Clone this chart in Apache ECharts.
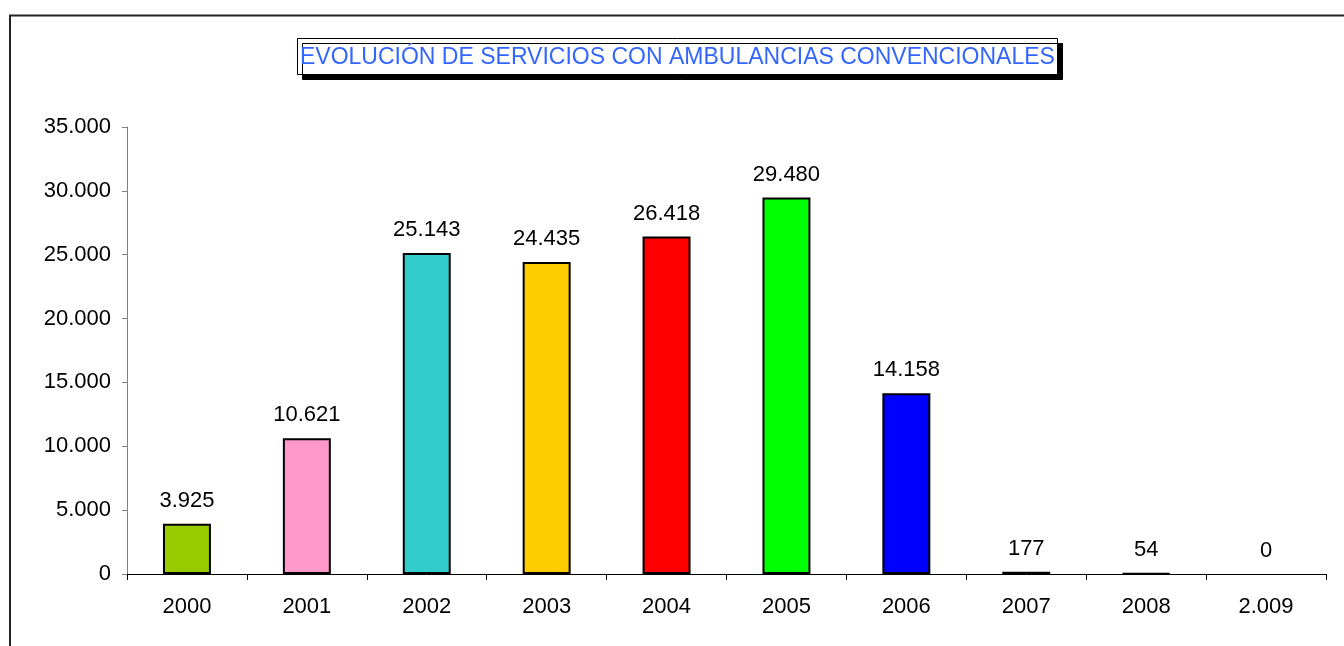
<!DOCTYPE html>
<html><head><meta charset="utf-8">
<script src="https://cdn.jsdelivr.net/npm/echarts@6/dist/echarts.min.js"></script>
<style>html,body{margin:0;padding:0;background:#fff}#c{width:1344px;height:646px}</style>
</head><body><div id="c"></div>
<script>
const categories = ['2000','2001','2002','2003','2004','2005','2006','2007','2008','2.009'];
const values = [3925, 10621, 25143, 24435, 26418, 29480, 14158, 177, 54, 0];
const barColors = ['#99CC00','#FF99CC','#33CCCC','#FFCC00','#FF0000','#00FF00','#0000FF','#000000','#000000','#000000'];
const yTicks = ['0','5.000','10.000','15.000','20.000','25.000','30.000','35.000'];
const titleText = 'EVOLUCIÓN DE SERVICIOS CON AMBULANCIAS CONVENCIONALES';

function fmt(v){ return String(v).replace(/\B(?=(\d{3})+(?!\d))/g,'.'); }
const chart = echarts.init(document.getElementById('c'));
chart.setOption({
  animation:false,
  textStyle:{fontFamily:'Liberation Sans, Arial, sans-serif'},
  graphic:[
    {type:'rect', shape:{x:10,y:15.5,width:1400,height:700}, style:{fill:'none',stroke:'#222',lineWidth:2}, z:-1}
  ],
  title:{
    text:titleText, left:297, top:38,
    padding:[8,3,6,3],
    backgroundColor:'#fff', borderColor:'#000', borderWidth:1,
    shadowColor:'#000', shadowOffsetX:5, shadowOffsetY:5, shadowBlur:0,
    textStyle:{color:'#3366FF', fontSize:23, fontWeight:'normal', fontFamily:'Liberation Sans, Arial, sans-serif'}
  },
  grid:{left:127, top:127, right:18, bottom:72},
  xAxis:{
    type:'category', data:categories,
    axisLine:{lineStyle:{color:'#000',width:1}},
    axisTick:{show:true, length:6, alignWithLabel:false, lineStyle:{color:'#000'}},
    axisLabel:{color:'#000', fontSize:22, margin:22}
  },
  yAxis:{
    type:'value', min:0, max:35000, interval:5000,
    axisLine:{show:true, lineStyle:{color:'#808080',width:1}},
    axisTick:{show:true, length:5, lineStyle:{color:'#808080'}},
    splitLine:{show:false},
    axisLabel:{color:'#000', fontSize:22, margin:16, formatter:v=>yTicks[v/5000]}
  },
  series:[{
    type:'bar', barWidth:'40%',
    data:values.map((v,i)=>({value:v, itemStyle:{color:barColors[i], borderWidth: v===0?0:2}})),
    itemStyle:{borderColor:'#000', borderWidth:2},
    label:{show:true, position:'top', distance:12, color:'#000', fontSize:22, formatter:p=>fmt(p.value)}
  }]
});
</script></body></html>
